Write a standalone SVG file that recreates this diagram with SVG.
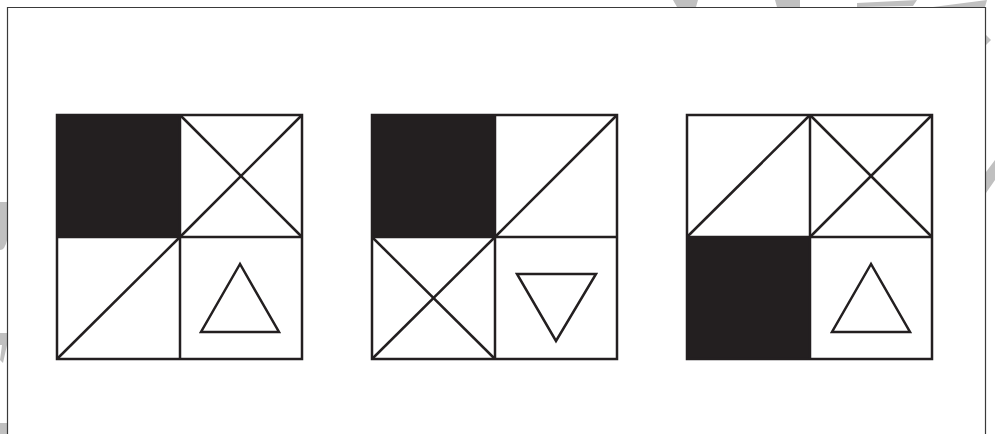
<svg xmlns="http://www.w3.org/2000/svg" width="995" height="434" viewBox="0 0 995 434">
<style>
.ln{stroke:#231f20;stroke-width:2.5;fill:none;stroke-linejoin:miter}
.blk{fill:#231f20}
.wm{fill:#c0c0c0}
.frame{stroke:#3a3a3a;stroke-width:1.2;fill:none}
</style>
<rect width="995" height="434" fill="#fff"/>
<g id="watermark">
<polygon class="wm" points="673,0 698,0 696,7 677,7"/>
<polygon class="wm" points="775,0 800,0 800,7 777,7"/>
<polygon class="wm" points="857,3 917,0 913,6 857,7"/>
<polygon class="wm" points="933,7 987,0 985,7"/>
<polygon class="wm" points="986,35 991,40 986,45"/>
<polygon class="wm" points="986,193 986,172 995,160 995,180"/>
<path class="wm" d="M0,202 L7,202 L7,240 Q5,250 0,250 Z"/>
<polygon class="wm" points="0,333 7,333 7,345 3,363 0,360 2,345 0,345"/>
<polygon class="wm" points="0,423 7,423 7,434 0,434"/>
</g>
<g id="frame">
<polyline class="frame" points="7.5,434 7.5,7.5 985.5,7.5 985.5,434"/>
</g>
<g id="panel1">
<rect class="blk" x="57" y="115" width="123" height="122"/>
<line class="ln" x1="180" y1="115" x2="302" y2="237"/>
<line class="ln" x1="180" y1="237" x2="302" y2="115"/>
<line class="ln" x1="57" y1="359" x2="180" y2="237"/>
<polygon class="ln" points="240,264 201,332 279,332"/>
<rect class="ln" x="57" y="115" width="245" height="244"/>
<line class="ln" x1="180" y1="115" x2="180" y2="359"/>
<line class="ln" x1="57" y1="237" x2="302" y2="237"/>
</g>
<g id="panel2">
<rect class="blk" x="372" y="115" width="123" height="122"/>
<line class="ln" x1="495" y1="237" x2="617" y2="115"/>
<line class="ln" x1="372" y1="237" x2="495" y2="359"/>
<line class="ln" x1="372" y1="359" x2="495" y2="237"/>
<polygon class="ln" points="517,274 596,274 556,341"/>
<rect class="ln" x="372" y="115" width="245" height="244"/>
<line class="ln" x1="495" y1="115" x2="495" y2="359"/>
<line class="ln" x1="372" y1="237" x2="617" y2="237"/>
</g>
<g id="panel3">
<rect class="blk" x="687" y="237" width="123" height="122"/>
<line class="ln" x1="687" y1="237" x2="810" y2="115"/>
<line class="ln" x1="810" y1="115" x2="932" y2="237"/>
<line class="ln" x1="810" y1="237" x2="932" y2="115"/>
<polygon class="ln" points="871,264 832,332 910,332"/>
<rect class="ln" x="687" y="115" width="245" height="244"/>
<line class="ln" x1="810" y1="115" x2="810" y2="359"/>
<line class="ln" x1="687" y1="237" x2="932" y2="237"/>
</g>
</svg>
